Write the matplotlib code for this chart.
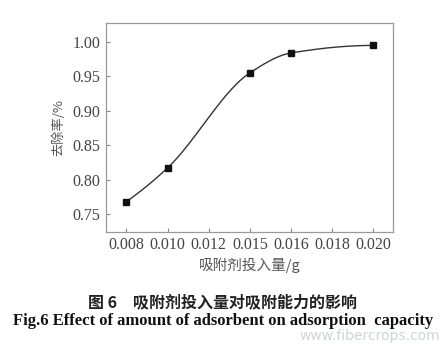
"""Removal rate vs. adsorbent dosage (Fig.6), redrawn with matplotlib."""

import numpy as np
import matplotlib

matplotlib.use("Agg")
import matplotlib.pyplot as plt

# categorical x axis (evenly spaced labels)
tick_labels = ["0.008", "0.010", "0.012", "0.015", "0.016", "0.018", "0.020"]
point_labels = ["0.008", "0.010", "0.015", "0.016", "0.020"]
removal_rate = [0.768, 0.817, 0.955, 0.984, 0.995]
y_ticks = [0.75, 0.80, 0.85, 0.90, 0.95, 1.00]

CJK = ["Noto Sans CJK SC", "DejaVu Sans"]
SERIF = ["Liberation Serif", "Noto Sans CJK SC"]


def pchip(x, y, xs):
    """Monotone cubic (Fritsch-Carlson) curve through the measured points."""
    x = np.asarray(x, float)
    y = np.asarray(y, float)
    h = np.diff(x)
    d = np.diff(y) / h
    m = np.zeros_like(y)
    for k in range(1, len(x) - 1):
        if d[k - 1] * d[k] > 0:
            w1 = 2 * h[k] + h[k - 1]
            w2 = h[k] + 2 * h[k - 1]
            m[k] = (w1 + w2) / (w1 / d[k - 1] + w2 / d[k])
    m[0] = ((2 * h[0] + h[1]) * d[0] - h[0] * d[1]) / (h[0] + h[1])
    if np.sign(m[0]) != np.sign(d[0]):
        m[0] = 0
    m[-1] = ((2 * h[-1] + h[-2]) * d[-1] - h[-1] * d[-2]) / (h[-1] + h[-2])
    if np.sign(m[-1]) != np.sign(d[-1]):
        m[-1] = 0
    idx = np.clip(np.searchsorted(x, xs) - 1, 0, len(x) - 2)
    t = (xs - x[idx]) / h[idx]
    h00 = 2 * t**3 - 3 * t**2 + 1
    h10 = t**3 - 2 * t**2 + t
    h01 = -2 * t**3 + 3 * t**2
    h11 = t**3 - t**2
    return (h00 * y[idx] + h10 * h[idx] * m[idx]
            + h01 * y[idx + 1] + h11 * h[idx] * m[idx + 1])


xpos = [tick_labels.index(lbl) for lbl in point_labels]
xs = np.linspace(xpos[0], xpos[-1], 300)

fig = plt.figure(figsize=(4.47, 3.44), dpi=100)
ax = fig.add_axes([0.237, 0.326, 0.642, 0.606])

ax.plot(xs, pchip(xpos, removal_rate, xs), color="#333333", lw=1.0)
ax.plot(xpos, removal_rate, ls="none", marker="s", ms=5, color="#111111")

ax.set_xlim(-0.5, 6.48)
ax.set_ylim(0.724, 1.027)
ax.set_xticks(range(len(tick_labels)))
ax.set_xticklabels(tick_labels, family=SERIF, fontsize=11.5, color="#444444")
ax.set_yticks(y_ticks)
ax.set_yticklabels([f"{v:.2f}" for v in y_ticks], family=SERIF,
                   fontsize=11.5, color="#444444")
ax.tick_params(direction="in", length=3, width=0.8, color="#888888", pad=4)
for s in ax.spines.values():
    s.set_color("#999999")
    s.set_linewidth(0.9)

ax.set_xlabel("吸附剂投入量/g", family=CJK, fontsize=10.5, color="#555555",
              labelpad=3)
ax.set_ylabel("去除率/%", family=CJK, fontsize=9.5, color="#555555",
              labelpad=5)

fig.text(0.497, 0.122, "图 6　吸附剂投入量对吸附能力的影响", family=CJK,
         fontsize=11.5, fontweight="bold", color="#222222",
         ha="center", va="center")
fig.text(0.5, 0.068, "Fig.6 Effect of amount of adsorbent on adsorption  capacity",
         family=SERIF, fontsize=12, fontweight="bold", color="#111111",
         ha="center", va="center")
fig.text(0.985, 0.022, "www.fibercrops.com", family=["DejaVu Sans"],
         fontsize=10, color="#d0d4da", ha="right", va="center")

fig.savefig("out.png", dpi=100)
